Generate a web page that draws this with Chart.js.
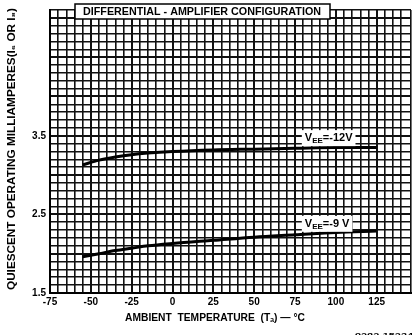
<!DOCTYPE html>
<html><head><meta charset="utf-8">
<script src="https://cdn.jsdelivr.net/npm/chart.js@4/dist/chart.umd.min.js"></script>
<style>html,body{margin:0;padding:0;background:#fff}#wrap{width:414px;height:335px}</style>
</head><body><div id="wrap"><canvas id="c" width="414" height="335"></canvas></div>
<script>
const temps = [-55, -45, -35, -25, -15, 0, 25, 50, 75, 100, 125];
const vee12 = [3.13, 3.19, 3.23, 3.26, 3.28, 3.30, 3.32, 3.33, 3.34, 3.35, 3.35];
const vee9  = [1.96, 2.00, 2.04, 2.07, 2.10, 2.13, 2.17, 2.21, 2.24, 2.27, 2.29];
const xTickLabels = [-75, -50, -25, 0, 25, 50, 75, 100, 125];
const yTickLabels = [1.5, 2.5, 3.5];
const seriesNames = ["-12V", "-9 V"];
const titleText = "DIFFERENTIAL - AMPLIFIER CONFIGURATION";
const yTitle = "QUIESCENT OPERATING MILLIAMPERES(I\u2086 OR I\u2088)";
const xTitle = "AMBIENT  TEMPERATURE  (T\u2090) \u2014 \u00B0C";
const footText = "9282-15234";

const FONT = '"Liberation Sans","DejaVu Sans",sans-serif';

function fitText(ctx, text, cx, cy, w, size) {
  ctx.save();
  ctx.font = 'bold ' + size + 'px ' + FONT;
  const m = ctx.measureText(text).width;
  ctx.translate(cx, cy);
  ctx.scale(w / m, 1);
  ctx.textAlign = 'center';
  ctx.textBaseline = 'middle';
  ctx.fillStyle = '#000';
  ctx.fillText(text, 0, 0);
  ctx.restore();
}

function veeLabel(ctx, suffix, x0, cy) {
  ctx.save();
  const big = 'bold 11px ' + FONT, small = 'bold 8px ' + FONT;
  ctx.font = big; const wV = ctx.measureText('V').width;
  ctx.font = small; const wE = ctx.measureText('EE').width;
  ctx.font = big; const wS = ctx.measureText('=' + suffix).width;
  const w = wV + wE + wS;
  ctx.fillStyle = '#fff';
  ctx.fillRect(x0 - 3, cy - 8, w + 6, 16);
  ctx.translate(x0, cy);
  ctx.fillStyle = '#000';
  ctx.textBaseline = 'middle';
  ctx.textAlign = 'left';
  ctx.font = big; ctx.fillText('V', 0, 0);
  ctx.font = small; ctx.fillText('EE', wV, 3);
  ctx.font = big; ctx.fillText('=' + suffix, wV + wE, 0);
  ctx.restore();
}

const annot = {
  id: 'annot',
  afterDraw(chart) {
    const ctx = chart.ctx;
    const xs = chart.scales.x, ys = chart.scales.y;
    ctx.save();
    ctx.fillStyle = '#fff';
    ctx.fillRect(75, 4, 255, 15);
    ctx.strokeStyle = '#000'; ctx.lineWidth = 1.5;
    ctx.strokeRect(75, 4, 255, 15);
    ctx.restore();
    fitText(ctx, titleText, 202, 12, 238, 10);
    veeLabel(ctx, seriesNames[0], xs.getPixelForValue(81), ys.getPixelForValue(3.47));
    veeLabel(ctx, seriesNames[1], xs.getPixelForValue(81), ys.getPixelForValue(2.38));
    ctx.save();
    ctx.translate(12, 149);
    ctx.rotate(-Math.PI / 2);
    fitText(ctx, yTitle, 0, 0, 282, 10);
    ctx.restore();
    fitText(ctx, xTitle, 215, 318, 180, 10);
    fitText(ctx, footText, 384, 336, 58, 8);
  }
};

const isIn = (v, arr) => arr.some(a => Math.abs(a - v) < 1e-6);

new Chart(document.getElementById('c'), {
  type: 'line',
  data: {
    datasets: [
      { label: seriesNames[0], data: temps.map((t, i) => ({x: t, y: vee12[i]})) },
      { label: seriesNames[1], data: temps.map((t, i) => ({x: t, y: vee9[i]})) }
    ]
  },
  options: {
    responsive: false,
    animation: false,
    devicePixelRatio: 1,
    layout: { padding: { top: 5, right: 1, left: 0, bottom: 0 } },
    elements: {
      line: { borderColor: '#000', borderWidth: 3, tension: 0.4, cubicInterpolationMode: 'monotone', fill: false },
      point: { radius: 0 }
    },
    plugins: { legend: { display: false }, tooltip: { enabled: false } },
    scales: {
      x: {
        type: 'linear', min: -75, max: 146,
        afterFit: s => { s.height = 42; },
        ticks: {
          stepSize: 5, autoSkip: false, maxRotation: 0, padding: 3,
          color: '#000', font: { family: FONT, size: 10, weight: 'bold' },
          callback: v => isIn(v, xTickLabels) ? String(v) : ''
        },
        grid: {
          color: '#111', drawTicks: false,
          lineWidth: c => (c.tick && Math.abs(c.tick.value % 25) < 1e-6) ? 2 : 1.6
        },
        border: { display: true, color: '#000', width: 2 }
      },
      y: {
        type: 'linear', min: 1.5, max: 5.1,
        afterFit: s => { s.width = 50; },
        ticks: {
          stepSize: 0.1, autoSkip: false, padding: 4,
          color: '#000', font: { family: FONT, size: 10, weight: 'bold' },
          callback: v => isIn(v, yTickLabels) ? v.toFixed(1) : ''
        },
        grid: {
          color: '#111', drawTicks: false,
          lineWidth: c => (c.tick && Math.abs(Math.round(c.tick.value * 10) % 5) === 0) ? 2 : 1.6
        },
        border: { display: true, color: '#000', width: 2 }
      }
    }
  },
  plugins: [annot]
});
</script></body></html>
